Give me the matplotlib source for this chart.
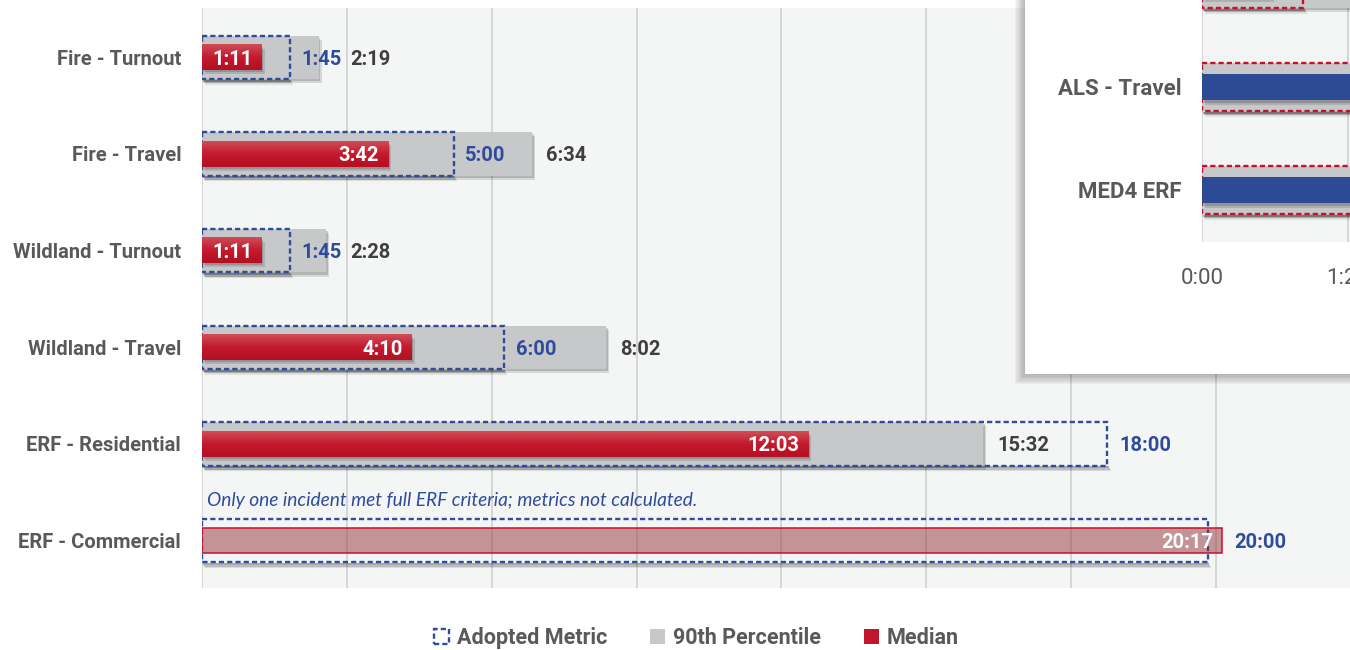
import numpy as np
import matplotlib.pyplot as plt
import matplotlib.patheffects as pe
import matplotlib.transforms as mtransforms
from matplotlib.patches import Rectangle, Patch
from matplotlib.colors import LinearSegmentedColormap
from matplotlib.ticker import MultipleLocator, FuncFormatter

plt.rcParams['font.family'] = ['Roboto', 'DejaVu Sans']

# response times (m:ss)
categories = ["Fire - Turnout", "Fire - Travel", "Wildland - Turnout",
              "Wildland - Travel", "ERF - Residential", "ERF - Commercial"]
median = ["1:11", "3:42", "1:11", "4:10", "12:03", "20:17"]
adopted = ["1:45", "5:00", "1:45", "6:00", "18:00", "20:00"]
pct90 = ["2:19", "6:34", "2:28", "8:02", "15:32", None]
note = "Only one incident met full ERF criteria; metrics not calculated."

# EMS panel
ems_rows = ["ALS - Turnout", "ALS - Travel", "MED4 ERF"]
ems_median = ["0:41", "6:10", "7:35"]
ems_adopted = ["1:00", "8:00", "10:00"]
ems_pct90 = ["1:40", "9:05", "10:50"]

RED = '#c0152b'
GRAY = '#c7c8ca'
NAVY = '#2e4b9c'
BG = '#f4f6f5'
GRID = '#d6d6d6'
LABEL = '#595959'
DARK = '#3f3f3f'
EMS_BLUE = '#2d4a94'
EMS_RED = '#c8102e'
DASH = (0, (2.2, 1.3))

red_grad = LinearSegmentedColormap.from_list('redgrad', ['#d04d58', '#c31a2e', '#b50f22'])


def secs(t):
    m, s = t.split(":")
    return int(m) * 60 + int(s)


def mmss(v, pos=None):
    v = int(round(v))
    return f"{v // 60}:{v % 60:02d}"


W, H = 1350, 650
fig = plt.figure(figsize=(13.5, 6.5), dpi=100)


def fx(p):
    return p / W


def fy(p):
    return 1 - p / H


shadow = [pe.SimplePatchShadow(offset=(1.2, -1.6), shadow_rgbFace='k', alpha=0.16),
          pe.SimplePatchShadow(offset=(2.2, -3.0), shadow_rgbFace='k', alpha=0.12),
          pe.Normal()]


def box_shadow(a, w, y_bottom):
    # soft shade under the bottom edge of a dashed box
    for k, al in ((1.2, 0.30), (2.4, 0.18), (3.4, 0.08)):
        off = mtransforms.ScaledTranslation(k * 0.7 / 72, -k / 72, fig.dpi_scale_trans)
        a.plot([0, w], [y_bottom, y_bottom], color='k', lw=1.6, alpha=al,
               solid_capstyle='butt', transform=a.transData + off, zorder=3.9)


# ---- main chart
ax = fig.add_axes([fx(202), fy(588), 1 - fx(202), (588 - 8) / H], zorder=0)
ax.set_facecolor(BG)
px_per_s = 1006 / 1200
xmax = (W - 202) / px_per_s
ax.xaxis.set_major_locator(MultipleLocator(172.8))
ax.grid(axis='x', color=GRID, lw=1.4)
ax.set_axisbelow(True)
ax.tick_params(axis='x', length=0, labelbottom=False)
ax.set_yticks(range(len(categories)), categories)
ax.tick_params(axis='y', length=0, pad=15, labelsize=14.5, labelcolor=LABEL)
for lbl in ax.get_yticklabels():
    lbl.set_fontweight('bold')
for s in ax.spines.values():
    s.set_visible(False)

bh = 0.45
mh = 0.26
ax.set_xlim(0, xmax)
ax.set_ylim(5.49, -0.51)
renderer = fig.canvas.get_renderer()
grad = np.linspace(0, 1, 64).reshape(-1, 1)

for i in range(len(categories)):
    m = secs(median[i])
    a = secs(adopted[i])
    if pct90[i]:
        ax.barh(i, secs(pct90[i]), height=bh, color=GRAY, zorder=2, path_effects=shadow)
    box_shadow(ax, a, i + bh / 2)
    ax.add_patch(Rectangle((0, i - bh / 2), a, bh, fill=False, ec=NAVY, lw=1.7,
                           ls=DASH, zorder=4))
    if pct90[i]:
        ax.barh(i, m, height=mh, color=RED, zorder=5, path_effects=shadow)
        ax.imshow(grad, cmap=red_grad, aspect='auto', origin='upper',
                  extent=(0, m, i + mh / 2, i - mh / 2), zorder=5.1)
    else:
        ax.barh(i, m, height=mh, color=(0.58, 0.2, 0.22, 0.5), ec=EMS_RED, lw=1.1, zorder=5)
    ax.annotate(median[i], (m, i), xytext=(-6.5, 0), textcoords='offset points',
                ha='right', va='center_baseline', color='white', fontweight='bold',
                fontsize=14.5, zorder=7)

    # value labels after the bar ends; the later one steps clear of the earlier one
    ends = [(max(a, m), adopted[i], NAVY, 8.5)]
    if pct90[i]:
        ends.append((secs(pct90[i]), pct90[i], DARK, 10))
    ends.sort(key=lambda e: e[0])
    prev = None
    for x, txt, col, off in ends:
        xd = x + off / 72 * 100 / px_per_s
        if prev is not None:
            xd = max(xd, prev + 8 / px_per_s)
        t = ax.text(xd, i, txt, ha='left', va='center_baseline', color=col,
                    fontweight='bold', fontsize=14.5, zorder=7)
        bb = t.get_window_extent(renderer)
        prev = ax.transData.inverted().transform((bb.x1, 0))[0]

ax.set_xlim(0, xmax)
ax.set_ylim(5.49, -0.51)

ax.text(6, 4.59, note, family=['Lato', 'DejaVu Sans'], style='italic',
        color=NAVY, fontsize=13.8, va='center', zorder=7)

# ---- EMS panel on top
px0, py1 = 1025, 374
for k in range(8):
    g = 1.3 * (k + 1)
    fig.add_artist(Rectangle((fx(px0 - g), fy(py1 + g)), 0.6, 0.8, transform=fig.transFigure,
                             fc='k', ec='none', alpha=0.035, zorder=1))
fig.add_artist(Rectangle((fx(px0), fy(py1)), 0.6, 0.8, transform=fig.transFigure,
                         fc='white', ec='none', zorder=2))

iax = fig.add_axes([fx(1202), fy(242), (1950 - 1202) / W, (242 + 60) / H], zorder=3)
iax.set_facecolor(BG)
ipx_per_s = 146 / 86.4
iax.xaxis.set_major_locator(MultipleLocator(86.4))
iax.xaxis.set_major_formatter(FuncFormatter(mmss))
iax.grid(axis='x', color=GRID, lw=1.4)
iax.set_axisbelow(True)
iax.tick_params(axis='x', length=0, pad=19, labelsize=16, labelcolor=LABEL)
iax.set_yticks(range(len(ems_rows)), ems_rows)
iax.tick_params(axis='y', length=0, pad=15, labelsize=16, labelcolor=LABEL)
for lbl in iax.get_yticklabels():
    lbl.set_fontweight('bold')
for s in iax.spines.values():
    s.set_visible(False)

ibh = 0.466
for i in range(len(ems_rows)):
    a = secs(ems_adopted[i])
    iax.barh(i, secs(ems_pct90[i]), height=ibh, color=GRAY, zorder=2, path_effects=shadow)
    box_shadow(iax, a, i + ibh / 2)
    iax.add_patch(Rectangle((0, i - ibh / 2), a, ibh, fill=False, ec=EMS_RED, lw=1.7,
                            ls=DASH, zorder=4))
    iax.barh(i, secs(ems_median[i]), height=0.26, color=EMS_BLUE, zorder=5, path_effects=shadow)

iax.set_xlim(0, (1950 - 1202) / ipx_per_s)
iax.set_ylim(2.505, -0.427)

# ---- legend
handles = [Patch(fc='none', ec=NAVY, ls=DASH, lw=1.7, label='Adopted Metric'),
           Patch(fc=GRAY, ec='none', label='90th Percentile'),
           Patch(fc=RED, ec='none', label='Median')]
fig.legend(handles=handles, loc='center', bbox_to_anchor=(0.5156, 0.0185), ncol=3,
           frameon=False, handlelength=0.7, handleheight=0.7, handletextpad=0.35,
           columnspacing=2.0, labelcolor=LABEL,
           prop=dict(family='Roboto', weight='bold', size=15.5))

fig.savefig('out.png', dpi=100)
